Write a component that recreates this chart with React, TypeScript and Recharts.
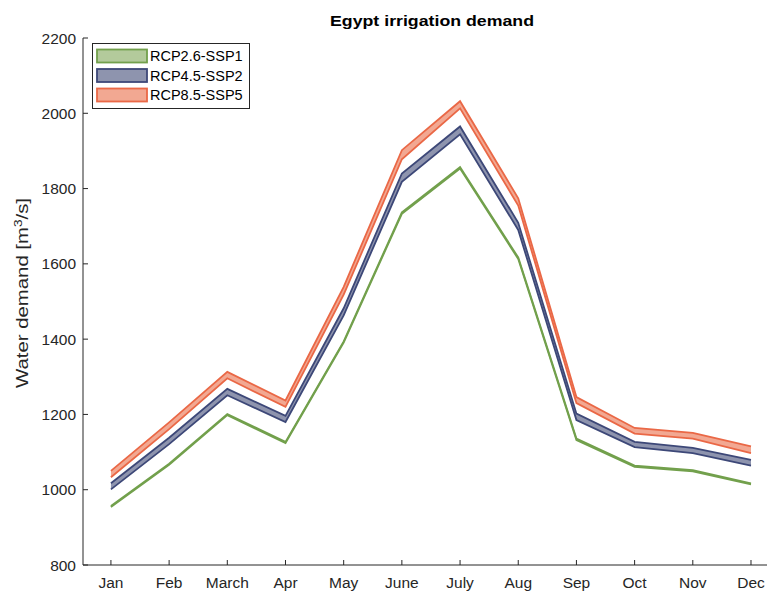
import React from 'react';
import { ComposedChart, Area, XAxis, YAxis } from 'recharts';

const months = ['Jan', 'Feb', 'March', 'Apr', 'May', 'June', 'July', 'Aug', 'Sep', 'Oct', 'Nov', 'Dec'];
const yTicks = [800, 1000, 1200, 1400, 1600, 1800, 2000, 2200];

const ssp1Low = [954, 1066, 1198, 1124, 1391, 1733, 1853, 1613, 1132, 1061, 1049, 1014];
const ssp1High = [957, 1069, 1201, 1127, 1394, 1737, 1857, 1617, 1136, 1064, 1052, 1017];
const ssp2Low = [1001, 1121, 1251, 1180, 1463, 1818, 1944, 1690, 1185, 1113, 1097, 1064];
const ssp2High = [1017, 1138, 1268, 1196, 1482, 1840, 1965, 1709, 1202, 1127, 1111, 1079];
const ssp5Low = [1033, 1161, 1296, 1220, 1518, 1878, 2013, 1755, 1230, 1149, 1136, 1097];
const ssp5High = [1050, 1179, 1313, 1237, 1539, 1902, 2032, 1774, 1246, 1164, 1151, 1115];

const seriesNames = ['RCP2.6-SSP1', 'RCP4.5-SSP2', 'RCP8.5-SSP5'];
const strokes = ['#72a04c', '#3d4878', '#ea6846'];
const fills = ['#b3ca9b', '#8e94ae', '#f2a892'];

const data = months.map((m, i) => ({
  x: i + 1,
  s1: [ssp1Low[i], ssp1High[i]],
  s2: [ssp2Low[i], ssp2High[i]],
  s3: [ssp5Low[i], ssp5High[i]],
}));

const FONT = '"Liberation Sans", Arial, Helvetica, sans-serif';
const AX = '#262626';

export default function App() {
  return (
    <div style={{ position: 'absolute', left: 0, top: 0, width: 767, height: 594, background: '#fff' }}>
      <ComposedChart
        width={767}
        height={594}
        data={data}
        margin={{ top: 38, right: 0, bottom: 0, left: 0 }}
      >
        <XAxis
          type="number"
          dataKey="x"
          domain={[0.52, 12.275]}
          allowDataOverflow
          ticks={[1, 2, 3, 4, 5, 6, 7, 8, 9, 10, 11, 12]}
          interval={0}
          tickFormatter={(v: number) => months[v - 1]}
          height={29}
          tickSize={-5}
          tickMargin={17}
          stroke={AX}
          tick={{ fill: AX, fontSize: 15.5, fontFamily: FONT }}
        />
        <YAxis
          type="number"
          domain={[800, 2200]}
          allowDataOverflow
          ticks={yTicks}
          interval={0}
          width={83}
          tickSize={-5}
          tickMargin={12}
          stroke={AX}
          tick={{ fill: AX, fontSize: 15.5, fontFamily: FONT }}
        />
        <Area
          type="linear"
          dataKey="s1"
          stroke={strokes[0]}
          strokeWidth={1.8}
          fill={fills[0]}
          fillOpacity={1}
          isAnimationActive={false}
          dot={false}
          activeDot={false}
        />
        <Area
          type="linear"
          dataKey="s2"
          stroke={strokes[1]}
          strokeWidth={1.8}
          fill={fills[1]}
          fillOpacity={1}
          isAnimationActive={false}
          dot={false}
          activeDot={false}
        />
        <Area
          type="linear"
          dataKey="s3"
          stroke={strokes[2]}
          strokeWidth={1.8}
          fill={fills[2]}
          fillOpacity={1}
          isAnimationActive={false}
          dot={false}
          activeDot={false}
        />
      </ComposedChart>
      <svg
        width={767}
        height={594}
        style={{ position: 'absolute', left: 0, top: 0, pointerEvents: 'none' }}
      >
        <text
          x={330}
          y={26}
          textLength={204}
          lengthAdjust="spacingAndGlyphs"
          fontFamily={FONT}
          fontWeight="bold"
          fontSize={15.5}
          fill="#000"
        >
          Egypt irrigation demand
        </text>
        <text
          x={0}
          y={0}
          transform="translate(28 388) rotate(-90)"
          textLength={190}
          lengthAdjust="spacingAndGlyphs"
          fontFamily={FONT}
          fontSize={16.5}
          fill={AX}
        >
          Water demand [m<tspan dy={-6} fontSize={11}>3</tspan><tspan dy={6}>/s]</tspan>
        </text>
        <rect x={92.5} y={43.5} width={157} height={65} fill="#fff" stroke={AX} strokeWidth={1} />
        {seriesNames.map((n, i) => (
          <g key={n}>
            <rect
              x={97}
              y={49.5 + i * 19.5}
              width={50}
              height={13}
              fill={fills[i]}
              stroke={strokes[i]}
              strokeWidth={1.8}
            />
            <text x={150} y={61 + i * 19.5} fontFamily={FONT} fontSize={14.5} fill="#000">
              {n}
            </text>
          </g>
        ))}
      </svg>
    </div>
  );
}
